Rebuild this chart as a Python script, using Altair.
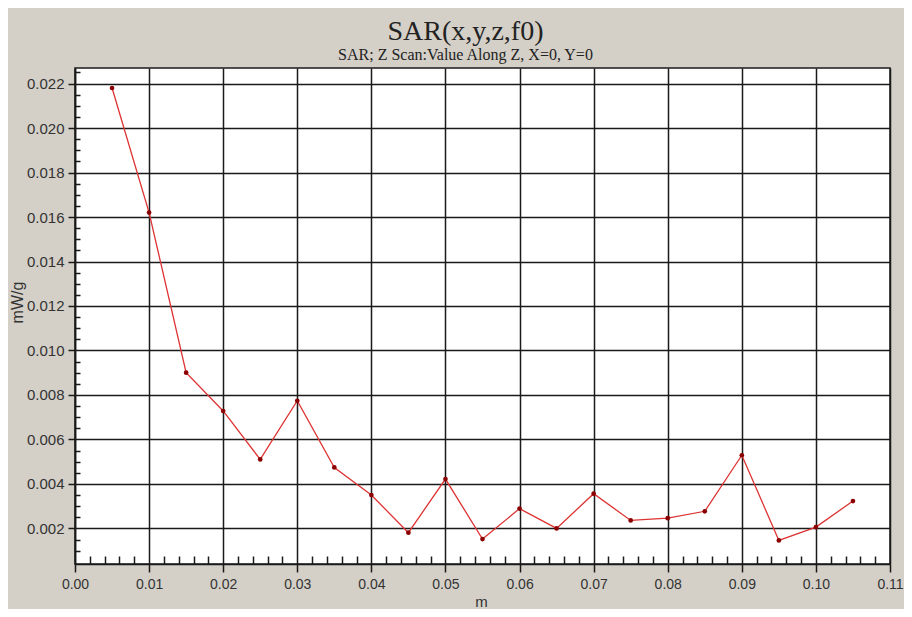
import altair as alt
import pandas as pd

# Data
x_m = [0.005, 0.010, 0.015, 0.020, 0.025, 0.030, 0.035, 0.040, 0.045, 0.050,
       0.055, 0.060, 0.065, 0.070, 0.075, 0.080, 0.085, 0.090, 0.095, 0.100, 0.105]
sar = [0.0218, 0.0162, 0.0090, 0.00728, 0.0051, 0.00774, 0.00474, 0.0035, 0.00181, 0.00422,
       0.00152, 0.00289, 0.0020, 0.00356, 0.00236, 0.00246, 0.00277, 0.00529, 0.00146, 0.00206, 0.00323]

x_major = [0.00, 0.01, 0.02, 0.03, 0.04, 0.05, 0.06, 0.07, 0.08, 0.09, 0.10, 0.11]
x_minor = [round(i * 0.002, 3) for i in range(1, 55) if i % 5]
y_major = [0.002, 0.004, 0.006, 0.008, 0.010, 0.012, 0.014, 0.016, 0.018, 0.020, 0.022]
y_minor = [round(i * 0.0005, 4) for i in range(2, 46) if i % 4]

df = pd.DataFrame({"x": x_m, "sar": sar})

W, H = 815, 496
x_dom = [0.0, 0.11]
y_dom = [0.0004, 0.0227]

label_font = "Liberation Sans"

x_main = alt.X("x:Q", scale=alt.Scale(domain=x_dom, nice=False, zero=False),
               axis=alt.Axis(values=x_major, format=".2f", title="m",
                             grid=True, gridColor="#1a1a1a", gridWidth=1.5,
                             domainColor="#1a1a1a", domainWidth=1.5,
                             tickColor="#1a1a1a", tickWidth=1.5, tickSize=8,
                             labelFont=label_font, labelFontSize=14, labelColor="#333333",
                             labelPadding=5, labelFlush=False, labelOverlap=False,
                             titleFont=label_font, titleFontSize=15, titleFontWeight="normal",
                             titleColor="#333333", titleX=406, titleY=42,
                             titleAlign="center", titleBaseline="alphabetic"))
y_main = alt.Y("sar:Q", scale=alt.Scale(domain=y_dom, nice=False, zero=False),
               axis=alt.Axis(values=y_major, format=".3f", title="mW/g",
                             grid=True, gridColor="#1a1a1a", gridWidth=1.5,
                             domainColor="#1a1a1a", domainWidth=1.5,
                             tickColor="#1a1a1a", tickWidth=1.5, tickSize=7,
                             labelFont=label_font, labelFontSize=15, labelColor="#333333",
                             labelPadding=4, labelFlush=False, labelOverlap=False,
                             titleFont=label_font, titleFontSize=16, titleFontWeight="normal",
                             titleColor="#333333", titleAngle=270, titleX=-58, titleY=234,
                             titleAlign="center", titleBaseline="middle"))

x_min = alt.X("x:Q", scale=alt.Scale(domain=x_dom, nice=False, zero=False),
              axis=alt.Axis(orient="top", offset=-H, values=x_minor, labels=False,
                            domain=False, grid=False, title=None,
                            tickColor="#1a1a1a", tickWidth=1.5, tickSize=8))
y_min = alt.Y("sar:Q", scale=alt.Scale(domain=y_dom, nice=False, zero=False),
              axis=alt.Axis(orient="right", offset=-W, values=y_minor, labels=False,
                            domain=False, grid=False, title=None,
                            tickColor="#1a1a1a", tickWidth=1.5, tickSize=5))

line = alt.Chart(df).mark_line(color="#dd3333", strokeWidth=1.3).encode(x=x_main, y=y_main)
pts = alt.Chart(df).mark_circle(color="#8b0000", opacity=1, size=22).encode(x=x_min, y=y_min)

chart = alt.layer(line, pts).resolve_axis(x="independent", y="independent").properties(
    width=W, height=H,
    background="#d4d0c8",
    padding={"left": 67, "top": 60, "right": 14, "bottom": 45},
    autosize=alt.AutoSizeParams(type="none"),
    title=alt.TitleParams(
        text="SAR(x,y,z,f0)", subtitle="SAR; Z Scan:Value Along Z, X=0, Y=0",
        anchor="middle", frame="group", dx=-17, offset=5,
        font="Liberation Serif", fontSize=28, fontWeight="normal", color="#222222",
        subtitleFont="Liberation Serif", subtitleFontSize=16, subtitleColor="#222222",
        subtitlePadding=1),
).configure_view(fill="white", stroke="#1a1a1a", strokeWidth=1.5)

chart.save("out.html", embed_options={"renderer": "svg", "actions": False})
